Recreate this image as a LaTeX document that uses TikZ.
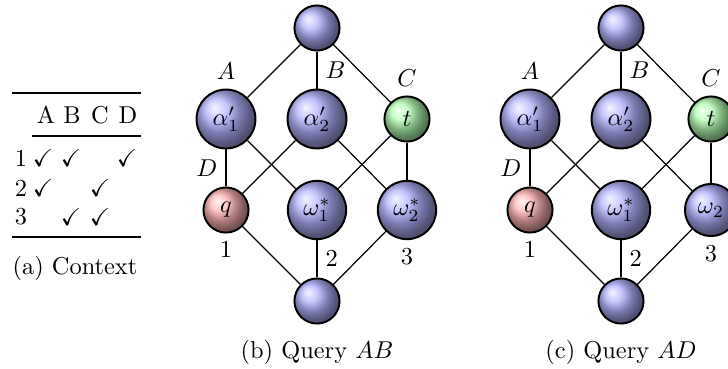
\documentclass[tikz,border=0pt]{standalone}
\usepackage{amssymb}

\begin{document}
\begin{tikzpicture}[
    x=0.41pt, y=-0.41pt,
    ball/.style={circle, draw, line width=0.8pt, minimum size=18.5pt,
                 inner sep=3.33pt},
    plain/.style={ball, ball color=blue!30},
    query/.style={ball, ball color=red!30},
    target/.style={ball, ball color=green!30},
    edge/.style={line width=0.5pt},
    toprule/.style={line width=0.8pt},
    midrule/.style={line width=0.5pt},
  ]
  \useasboundingbox (0,0) rectangle (728,368);

  % (a) context table
  \draw[toprule] (12,93) -- (141,93);
  \node (hA) at (46,115) {A};
  \node (hB) at (72,115) {B};
  \node (hC) at (100,115) {C};
  \node (hD) at (128,115) {D};
  \draw[midrule] (32,136) -- (141,136);
  \node (r1) at (21,158) {1};
  \node (r1A) at (43,158) {$\checkmark$};
  \node (r1B) at (71,158) {$\checkmark$};
  \node (r1D) at (127,158) {$\checkmark$};
  \node (r2) at (21,188) {2};
  \node (r2A) at (43,188) {$\checkmark$};
  \node (r2C) at (100,188) {$\checkmark$};
  \node (r3) at (21,217) {3};
  \node (r3B) at (71,217) {$\checkmark$};
  \node (r3C) at (100,217) {$\checkmark$};
  \draw[toprule] (12,237) -- (141,237);
  \node (capa) at (75,268) {(a) Context};

  % (b) query AB
  \node[plain] (btop) at (317,28) {};
  \node[plain, label=above:$A$] (ba1) at (226,119) {$\alpha'_1$};
  \node[plain] (ba2) at (317,119) {$\alpha'_2$};
  \node[target, label=above:$C$] (bt) at (407,119) {$t$};
  \node[query, label=below:$1$] (bq) at (226,210) {$q$};
  \node[plain] (bw1) at (317,210) {$\omega^*_1$};
  \node[plain, label=below:$3$] (bw2) at (407,210) {$\omega^*_2$};
  \node[plain] (bbot) at (317,301) {};

  \draw[edge] (btop) -- (ba1);
  \draw[edge] (btop) -- node[right] (bB) {$B$} (ba2);
  \draw[edge] (btop) -- (bt);
  \draw[edge] (ba1) -- node[left] (bD) {$D$} (bq);
  \draw[edge] (ba1) -- (bw1);
  \draw[edge] (ba2) -- (bq);
  \draw[edge] (ba2) -- (bw2);
  \draw[edge] (bt) -- (bw1);
  \draw[edge] (bt) -- (bw2);
  \draw[edge] (bbot) -- (bq);
  \draw[edge] (bbot) -- node[right] (b2) {$2$} (bw1);
  \draw[edge] (bbot) -- (bw2);

  \node (capb) at (317,352) {(b) Query $AB$};

  % (c) query AD
  \node[plain] (ctop) at (621,28) {};
  \node[plain, label=above:$A$] (ca1) at (530,119) {$\alpha'_1$};
  \node[plain] (ca2) at (621,119) {$\alpha'_2$};
  \node[target, label=above:$C$] (ct) at (711,119) {$t$};
  \node[query, label=below:$1$] (cq) at (530,210) {$q$};
  \node[plain] (cw1) at (621,210) {$\omega^*_1$};
  \node[plain, label=below:$3$] (cw2) at (711,210) {$\omega_2$};
  \node[plain] (cbot) at (621,301) {};

  \draw[edge] (ctop) -- (ca1);
  \draw[edge] (ctop) -- node[right] (cB) {$B$} (ca2);
  \draw[edge] (ctop) -- (ct);
  \draw[edge] (ca1) -- node[left] (cD) {$D$} (cq);
  \draw[edge] (ca1) -- (cw1);
  \draw[edge] (ca2) -- (cq);
  \draw[edge] (ca2) -- (cw2);
  \draw[edge] (ct) -- (cw1);
  \draw[edge] (ct) -- (cw2);
  \draw[edge] (cbot) -- (cq);
  \draw[edge] (cbot) -- node[right] (c2) {$2$} (cw1);
  \draw[edge] (cbot) -- (cw2);

  \node (capc) at (621,352) {(c) Query $AD$};
\end{tikzpicture}
\end{document}
